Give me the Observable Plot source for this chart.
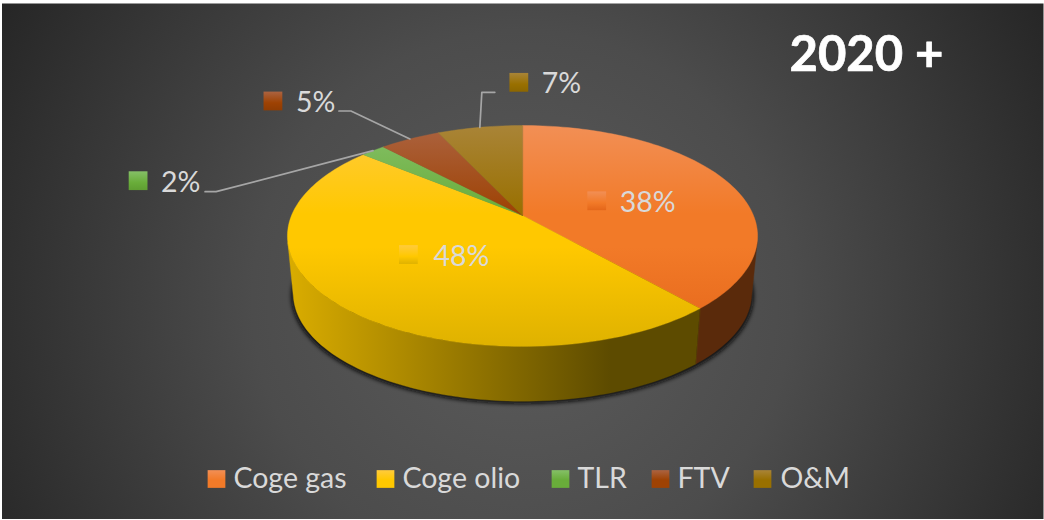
<!DOCTYPE html>
<html>
<head>
<meta charset="utf-8">
<script src="https://cdn.jsdelivr.net/npm/d3@7"></script>
<script src="https://cdn.jsdelivr.net/npm/@observablehq/plot@0.6"></script>
<style>
html,body{margin:0;padding:0;background:#fff;overflow:hidden}
svg{display:block}
</style>
</head>
<body>
<div id="chart"></div>
<script>
const title = "2020 +";
const categories = ["Coge gas", "Coge olio", "TLR", "FTV", "O&M"];
const shares = [38.5, 47.5, 2, 5, 7];
const labels = ["38%", "48%", "2%", "5%", "7%"];
const topColors = ["#f28f55", "#ffcb3d", "#85c067", "#ac6340", "#a98437"];
const baseColors = ["#f27a28", "#ffc800", "#69ad3a", "#9e4203", "#997000"];
const deepColors = ["#e4661a", "#dfb200", "#5f9e32", "#8f3c03", "#8c6600"];
const wallLight = ["#6d3510", "#d9ac00", "#5f9e32", "#6a2c02", "#6a4e00"];
const wallDark = ["#5a2a0b", "#5d4b00", "#3f6a20", "#4d2002", "#4d3800"];

// Pie projection: the plan circle is seen through a perspective
const view = {cx: 522, cy: 215, a: 231, b: 106.7, k: 0.1855, floorY: 273, floorScale: 0.975};
const project = (deg, r = 1, floor = false) => {
  const t = deg * Math.PI / 180, X = r * Math.sin(t), Y = -r * Math.cos(t), d = 1 - view.k * Y;
  const s = floor ? view.floorScale : 1;
  return {x: view.cx + s * view.a * X / d, y: (floor ? view.floorY : view.cy) + s * view.b * Y / d};
};
let acc = 0;
const slices = categories.map((name, i) => {
  const start = acc * 3.6; acc += shares[i];
  const end = acc * 3.6;
  return {name, i, start, end, mid: (start + end) / 2};
});
const arc = (a0, a1, floor = false) => {
  const n = Math.max(2, Math.ceil(Math.abs(a1 - a0) / 1.5));
  return d3.range(n + 1).map(j => project(a0 + (a1 - a0) * j / n, 1, floor));
};
const closed = (pts, key) => pts.map(p => ({...p, key}));

const tops = slices.flatMap(s => closed([{x: view.cx, y: view.cy}, ...arc(s.start, s.end)], s.i));
const wallFrom = 104, wallTo = 256;
const walls = slices.filter(s => s.end > wallFrom && s.start < wallTo).flatMap(s => {
  const a0 = Math.max(s.start, wallFrom), a1 = Math.min(s.end, wallTo);
  return closed([...arc(a0, a1), ...arc(a1, a0, true)], s.i);
});
const shadow = closed(arc(70, 290, true), 0);

// Label layout, relative to each slice
const labelLayout = [
  {r: 0.4, dx: -10, dy: 0, gap: 23},
  {r: 0.5, dx: -28, dy: -2, gap: 25},
  {leader: [[-157, 41], [-168, 41]], ox: -235, oy: 30, gap: 23},
  {leader: [[-59, -28], [-71, -28]], ox: -137, oy: -38, gap: 23},
  {leader: [[2, -35], [15, -35]], ox: 39, oy: -45, gap: 23}
];
const labelPoints = slices.map((s, i) => {
  const l = labelLayout[i];
  const p = project(s.mid, l.r || 1);
  return l.leader
    ? {i, x: p.x + l.ox, y: p.y + l.oy, tx: p.x + l.ox + l.gap, text: labels[i]}
    : {i, x: p.x + l.dx, y: p.y + l.dy, tx: p.x + l.dx + l.gap, text: labels[i]};
});
const leaders = slices.flatMap((s, i) => {
  const l = labelLayout[i];
  if (!l.leader) return [];
  const p = project(s.mid);
  return [p, ...l.leader.map(([dx, dy]) => ({x: p.x + dx, y: p.y + dy}))].map(q => ({...q, key: i}));
});

const legendSwatchX = [216, 385, 560, 660, 762];
const legendTextX = [233, 402, 577, 677, 780];
const legendRows = categories.map((name, i) => ({name, i, sx: legendSwatchX[i], tx: legendTextX[i], y: 478.5}));

const font = "Lato, 'Open Sans', sans-serif";
const defs = () => {
  const ns = "http://www.w3.org/2000/svg";
  const d = document.createElementNS(ns, "defs");
  let h = `<radialGradient id="bg" gradientUnits="userSpaceOnUse" cx="522" cy="300" r="600">
    <stop offset="0" stop-color="#5c5c5c"/><stop offset="0.45" stop-color="#4c4c4c"/><stop offset="1" stop-color="#262626"/></radialGradient>
    <filter id="blur" x="-10%" y="-10%" width="120%" height="120%"><feGaussianBlur stdDeviation="2.2"/></filter>`;
  baseColors.forEach((c, i) => {
    h += `<linearGradient id="face${i}" gradientUnits="userSpaceOnUse" x1="0" x2="0" y1="125" y2="346">
      <stop offset="0" stop-color="${topColors[i]}"/><stop offset="0.4" stop-color="${c}"/><stop offset="0.55" stop-color="${c}"/><stop offset="1" stop-color="${deepColors[i]}"/></linearGradient>
      <linearGradient id="sw${i}"  x1="0" x2="0" y1="0" y2="1">
      <stop offset="0" stop-color="${topColors[i]}"/><stop offset="0.55" stop-color="${c}"/><stop offset="1" stop-color="${c}"/></linearGradient>
      <linearGradient id="lab${i}"  x1="0" x2="0" y1="0" y2="1">
      <stop offset="0" stop-color="${topColors[i]}"/><stop offset="0.6" stop-color="${c}"/><stop offset="1" stop-color="${deepColors[i]}"/></linearGradient>
      <linearGradient id="wall${i}" gradientUnits="userSpaceOnUse" x1="290" x2="610" y1="0" y2="0">
      <stop offset="0" stop-color="${wallLight[i]}"/><stop offset="1" stop-color="${wallDark[i]}"/></linearGradient>`;
  });
  d.innerHTML = h;
  return d;
};

const polygons = (rows, prefix) =>
  d3.groups(rows, d => d.key).map(([k, pts]) =>
    Plot.line(pts, {x: "x", y: "y", fill: `url(#${prefix}${k})`, stroke: `url(#${prefix}${k})`, strokeWidth: 0.4, curve: "linear-closed"}));

const chart = Plot.plot({
  width: 1044, height: 520,
  margin: 0,
  x: {domain: [0, 1044], range: [0, 1044], axis: null},
  y: {domain: [0, 520], range: [0, 520], axis: null},
  style: {background: "#fff", fontFamily: font},
  marks: [
    defs,
    Plot.frame({fill: "url(#bg)", insetTop: 3, insetLeft: 1.5, insetRight: 1, insetBottom: 1.5}),
    Plot.line(shadow, {x: (d) => view.cx + (d.x - view.cx) * 1.008, y: (d) => d.y + 2.5, fill: "#0c0c0c", curve: "linear-closed"}),
    ...polygons(walls, "wall"),
    ...polygons(tops, "face"),
    Plot.line(leaders, {x: "x", y: "y", z: "key", stroke: "#a6a6a6", strokeWidth: 1.7}),
    ...labelPoints.map(p => Plot.dot([p], {x: (d) => d.x, y: "y", symbol: "square", r: 10.6, fill: `url(#lab${p.i})`})),
    Plot.text(labelPoints, {x: "tx", y: (d) => d.y + 2, text: "text", textAnchor: "start", fill: "#d9d9d9", fontSize: 28.5, lineAnchor: "middle"}),
    ...legendRows.map(r => Plot.dot([r], {x: "sx", y: "y", symbol: "square", r: 10, fill: `url(#sw${r.i})`})),
    Plot.text(legendRows, {x: "tx", y: "y", text: "name", textAnchor: "start", fill: "#d9d9d9", fontSize: 28.5, lineAnchor: "middle"}),
    Plot.text([title], {x: 789, y: 55, text: (d) => d, textAnchor: "start", fill: "#fff", stroke: "#fff", strokeWidth: 0.7, fontSize: 49, fontWeight: 700, lineAnchor: "middle"})
  ]
});
d3.select(chart).selectAll('[fill="#0c0c0c"]').attr("filter", "url(#blur)");
document.getElementById("chart").appendChild(chart);
</script>
</body>
</html>
